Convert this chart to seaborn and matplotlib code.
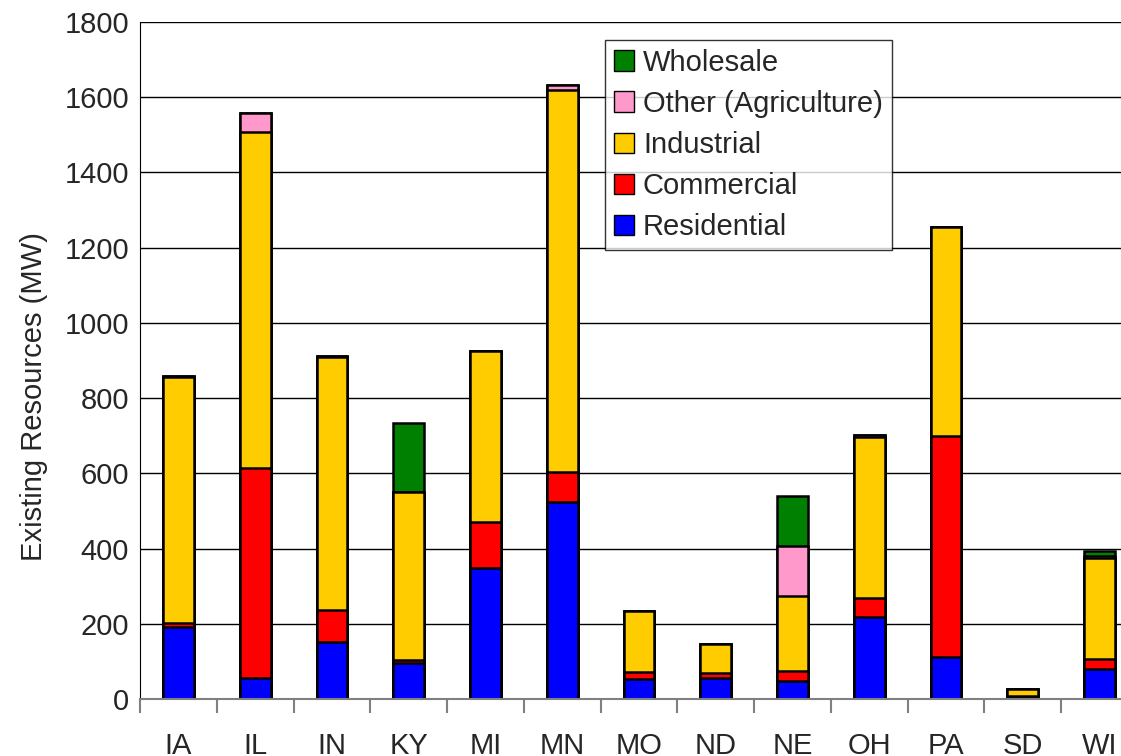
import matplotlib
matplotlib.use("Agg")
import matplotlib.pyplot as plt
import seaborn as sns
import pandas as pd
import numpy as np
from matplotlib.patches import Patch

states = ['IA', 'IL', 'IN', 'KY', 'MI', 'MN', 'MO', 'ND', 'NE', 'OH', 'PA', 'SD', 'WI']
residential = [191, 56, 151, 96, 348, 523, 53, 56, 48, 218, 111, 5, 80]
commercial = [11, 558, 86, 8, 122, 80, 18, 14, 26, 50, 587, 3, 26]
industrial = [654, 894, 673, 446, 456, 1016, 163, 76, 200, 428, 556, 19, 269]
other_agri = [3, 50, 3, 0, 0, 14, 0, 0, 133, 6, 0, 0, 4]
wholesale = [0, 0, 0, 184, 0, 0, 0, 0, 133, 0, 0, 0, 14]

layers = ['Residential', 'Commercial', 'Industrial', 'Other (Agriculture)', 'Wholesale']
colors = ['#0000FF', '#FF0000', '#FFCC00', '#FF99CC', '#008000']

df = pd.DataFrame({'state': states, 'Residential': residential, 'Commercial': commercial,
                   'Industrial': industrial, 'Other (Agriculture)': other_agri,
                   'Wholesale': wholesale})
cum = df[layers].cumsum(axis=1)

sns.set_style("white")
plt.rcParams['font.family'] = ['Liberation Sans', 'DejaVu Sans']

fig = plt.figure(figsize=(11.21, 7.56), dpi=100)
ax = fig.add_axes([140/1121, 57/756, 998/1121, 677/756])

# stacked look: draw cumulative totals from the top layer down
for i in range(len(layers)-1, -1, -1):
    plot_df = pd.DataFrame({'state': states, 'value': cum[layers[i]].values})
    sns.barplot(data=plot_df, x='state', y='value', color=colors[i], width=0.4,
                edgecolor='black', linewidth=1.8, ax=ax, errorbar=None, saturation=1)

ax.set_ylim(0, 1800)
ax.set_xlim(-0.5, len(states)-0.5)
ax.set_yticks(np.arange(0, 1801, 200))
ax.yaxis.grid(True, color='black', linewidth=1)
ax.set_axisbelow(True)
ax.set_ylabel('Existing Resources (MW)', fontsize=21)
ax.yaxis.set_label_coords(-0.092, 0.446)
ax.set_xlabel('')
ax.tick_params(axis='y', labelsize=21, length=0, pad=8)
ax.tick_params(axis='x', labelsize=21, length=0, pad=24)

# category separators below the axis
ax.set_xticks(np.arange(-0.5, len(states)-0.5, 1), minor=True)
ax.tick_params(axis='x', which='minor', length=10, color='gray', width=1.5, bottom=True)

for s in ['top', 'right']:
    ax.spines[s].set_visible(False)
ax.spines['left'].set_color('black')
ax.spines['bottom'].set_color('gray')
ax.spines['bottom'].set_linewidth(1.5)

handles = [Patch(facecolor=colors[i], edgecolor='black', label=layers[i]) for i in range(len(layers)-1, -1, -1)]
leg = ax.legend(handles=handles, loc='upper left', bbox_to_anchor=(465/998, 1-18/677),
                fontsize=21, frameon=True, fancybox=False, edgecolor='black',
                handlelength=0.7, handleheight=0.7, handletextpad=0.3, labelspacing=0.45,
                borderpad=0.3, borderaxespad=0)
leg.get_frame().set_linewidth(1)

fig.savefig('out.png', dpi=100)
